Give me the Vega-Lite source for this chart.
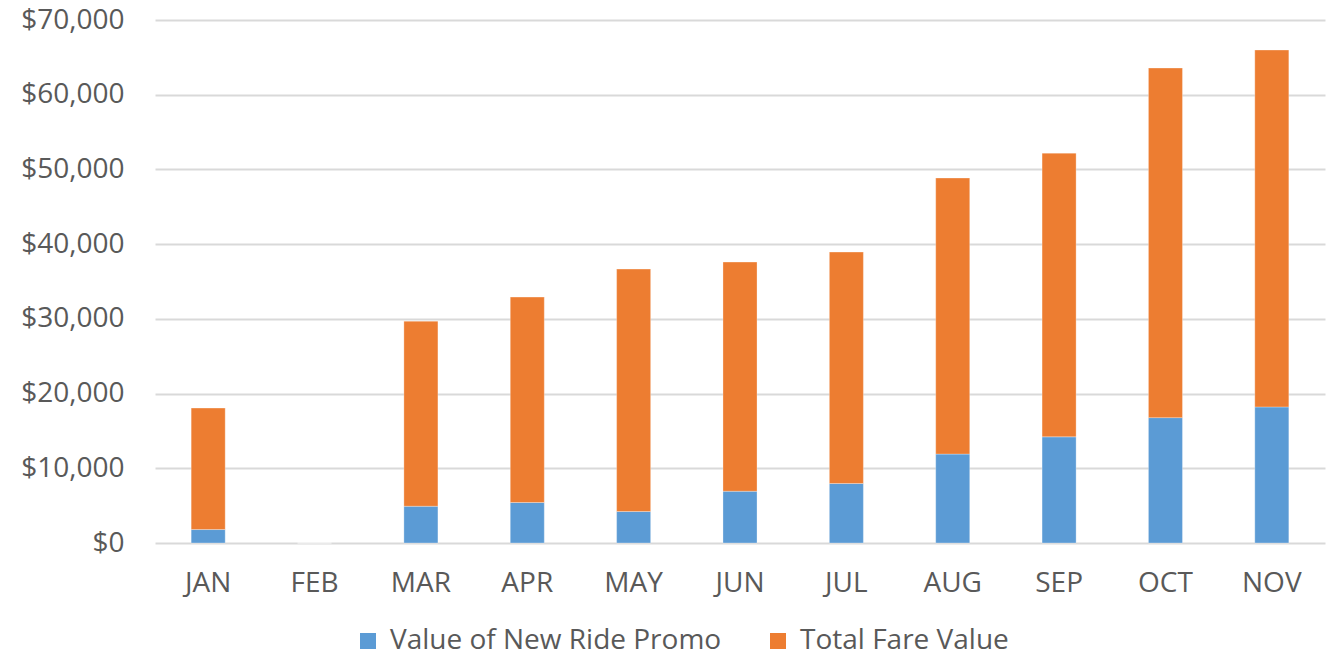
{
  "$schema": "https://vega.github.io/schema/vega-lite/v6.json",
  "autosize": "none",
  "width": 1170,
  "height": 523,
  "padding": {"left": 155, "top": 20, "right": 11, "bottom": 117},
  "background": "white",
  "config": {
    "font": "Open Sans",
    "view": {"stroke": null}
  },
  "data": {
    "values": [
      {"month": "JAN", "series": "Value of New Ride Promo", "value": 1800},
      {"month": "JAN", "series": "Total Fare Value", "value": 16260},
      {"month": "FEB", "series": "Value of New Ride Promo", "value": 0},
      {"month": "FEB", "series": "Total Fare Value", "value": 0},
      {"month": "MAR", "series": "Value of New Ride Promo", "value": 4920},
      {"month": "MAR", "series": "Total Fare Value", "value": 24770},
      {"month": "APR", "series": "Value of New Ride Promo", "value": 5420},
      {"month": "APR", "series": "Total Fare Value", "value": 27490},
      {"month": "MAY", "series": "Value of New Ride Promo", "value": 4210},
      {"month": "MAY", "series": "Total Fare Value", "value": 32450},
      {"month": "JUN", "series": "Value of New Ride Promo", "value": 6930},
      {"month": "JUN", "series": "Total Fare Value", "value": 30670},
      {"month": "JUL", "series": "Value of New Ride Promo", "value": 7960},
      {"month": "JUL", "series": "Total Fare Value", "value": 30980},
      {"month": "AUG", "series": "Value of New Ride Promo", "value": 11900},
      {"month": "AUG", "series": "Total Fare Value", "value": 36950},
      {"month": "SEP", "series": "Value of New Ride Promo", "value": 14210},
      {"month": "SEP", "series": "Total Fare Value", "value": 37970},
      {"month": "OCT", "series": "Value of New Ride Promo", "value": 16780},
      {"month": "OCT", "series": "Total Fare Value", "value": 46790},
      {"month": "NOV", "series": "Value of New Ride Promo", "value": 18210},
      {"month": "NOV", "series": "Total Fare Value", "value": 47770}
    ]
  },
  "mark": {"type": "bar", "stroke": "white", "strokeWidth": 0.5, "strokeOpacity": 0.6},
  "encoding": {
    "x": {
      "field": "month",
      "type": "nominal",
      "sort": null,
      "scale": {"paddingInner": 0.68, "paddingOuter": 0.34},
      "axis": {
        "title": null,
        "labelAngle": 0,
        "labelFontSize": 28,
        "labelColor": "#595959",
        "labelPadding": 26,
        "ticks": false,
        "domain": false,
        "grid": false
      }
    },
    "y": {
      "field": "value",
      "type": "quantitative",
      "stack": "zero",
      "scale": {"domain": [0, 70000], "nice": false},
      "axis": {
        "title": null,
        "values": [0, 10000, 20000, 30000, 40000, 50000, 60000, 70000],
        "format": "$,.0f",
        "labelFontSize": 28,
        "labelColor": "#595959",
        "labelPadding": 31,
        "ticks": false,
        "domain": false,
        "grid": true,
        "gridColor": "#D9D9D9",
        "gridWidth": 2
      }
    },
    "color": {
      "field": "series",
      "type": "nominal",
      "sort": ["Value of New Ride Promo", "Total Fare Value"],
      "scale": {
        "domain": ["Value of New Ride Promo", "Total Fare Value"],
        "range": ["#5B9BD5", "#ED7D31"]
      },
      "legend": {
        "title": null,
        "orient": "none",
        "direction": "horizontal",
        "legendX": 199,
        "legendY": 607,
        "symbolType": "square",
        "symbolSize": 256,
        "symbolStrokeWidth": 0,
        "labelFontSize": 28,
        "labelColor": "#595959",
        "labelOffset": 8,
        "columnPadding": 42,
        "labelLimit": 500
      }
    },
    "order": {"field": "series", "sort": "descending"}
  }
}
